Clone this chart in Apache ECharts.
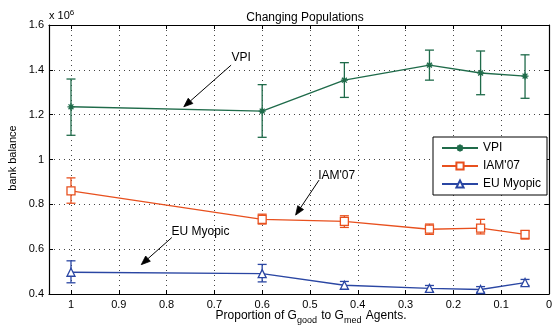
<!DOCTYPE html>
<html>
<head>
<meta charset="utf-8">
<script src="https://cdn.jsdelivr.net/npm/echarts@6/dist/echarts.min.js"></script>
<style>
  html, body { margin: 0; padding: 0; background: #fff; }
  #chart { width: 555px; height: 329px; }
</style>
</head>
<body>
<div id="chart"></div>
<script>
// x 轴（比例）
var xs = [1, 0.6, 0.428, 0.25, 0.143, 0.05];

// 各系列均值及误差上下限（单位 10^6）
var vpiMean = [1.235, 1.216, 1.354, 1.421, 1.386, 1.372];
var vpiLow  = [1.108, 1.099, 1.277, 1.354, 1.289, 1.273];
var vpiHigh = [1.359, 1.334, 1.432, 1.488, 1.484, 1.467];

var iamMean = [0.860, 0.733, 0.724, 0.689, 0.694, 0.666];
var iamLow  = [0.805, 0.712, 0.697, 0.666, 0.668, 0.645];
var iamHigh = [0.918, 0.756, 0.749, 0.712, 0.733, 0.682];

var euMean = [0.497, 0.491, 0.439, 0.425, 0.420, 0.451];
var euLow  = [0.450, 0.454, 0.421, 0.409, 0.408, 0.438];
var euHigh = [0.548, 0.532, 0.456, 0.438, 0.433, 0.465];

var seriesNames = ['VPI', "IAM'07", 'EU Myopic'];
var seriesColors = ['#1f6b4a', '#e8501e', '#2a46a3'];

// 标注：文字位置与箭头（数据坐标）
var notes = [
  { text: 'VPI', at: [0.644, 1.453], from: [0.665, 1.421], to: [0.764, 1.235] },
  { text: "IAM'07", at: [0.444, 0.926], from: [0.481, 0.908], to: [0.530, 0.752] },
  { text: 'EU Myopic', at: [0.729, 0.677], from: [0.789, 0.652], to: [0.853, 0.531] }
];

var FONT = '"Liberation Sans", Arial, Helvetica, sans-serif';
var asterisk = 'path://M5,0L5,10M0,5L10,5M1.5,1.5L8.5,8.5M1.5,8.5L8.5,1.5';

function pairs(ys) {
  return xs.map(function (x, i) { return [x, ys[i]]; });
}
function bars(lo, hi) {
  return xs.map(function (x, i) { return [x, lo[i], hi[i]]; });
}

function errorSeries(name, lo, hi, color) {
  return {
    name: name + ' 误差',
    type: 'custom',
    z: 2,
    silent: true,
    clip: true,
    data: bars(lo, hi),
    renderItem: function (params, api) {
      var x = api.value(0);
      var a = api.coord([x, api.value(1)]);
      var b = api.coord([x, api.value(2)]);
      var w = 4.5;
      var st = { stroke: color, lineWidth: 1.3 };
      return {
        type: 'group',
        children: [
          { type: 'line', shape: { x1: a[0], y1: a[1], x2: b[0], y2: b[1] }, style: st },
          { type: 'line', shape: { x1: a[0] - w, y1: a[1], x2: a[0] + w, y2: a[1] }, style: st },
          { type: 'line', shape: { x1: b[0] - w, y1: b[1], x2: b[0] + w, y2: b[1] }, style: st }
        ]
      };
    }
  };
}

function lineSeries(name, ys, color, symbol, size) {
  return {
    name: name,
    type: 'line',
    z: 3,
    data: pairs(ys),
    symbol: symbol,
    symbolSize: size,
    showAllSymbol: true,
    color: color,
    lineStyle: { color: color, width: 1.4 },
    itemStyle: { color: symbol === asterisk ? color : '#fff', borderColor: color, borderWidth: 1.3 },
    emphasis: { disabled: true }
  };
}

var gridLine = { show: true, lineStyle: { color: '#444', type: [1, 4], width: 1 } };
var tickIn = { show: true, inside: true, length: 4, lineStyle: { color: '#000' } };
var axLine = { show: true, onZero: false, lineStyle: { color: '#000', width: 1.2 } };

var chart = echarts.init(document.getElementById('chart'));
var option = {
  animation: false,
  backgroundColor: '#fff',
  title: {
    text: 'Changing Populations',
    left: 300, top: 7, textAlign: 'center',
    textStyle: { fontFamily: FONT, fontSize: 12, fontWeight: 'normal', color: '#000' }
  },
  grid: { left: 49, right: 4, top: 25, bottom: 35 },
  legend: {
    orient: 'vertical',
    left: 433, top: 137,
    width: 112,
    padding: [5, 6, 5, 8],
    itemGap: 6,
    itemWidth: 36, itemHeight: 9,
    borderColor: '#000', borderWidth: 1,
    backgroundColor: '#fff',
    textStyle: { fontFamily: FONT, fontSize: 12, color: '#000' },
    data: seriesNames
  },
  xAxis: [{
    type: 'value', inverse: true, min: 0, max: 1.046, interval: 0.1,
    axisLine: axLine, axisTick: tickIn, splitLine: gridLine,
    axisLabel: {
      showMaxLabel: false, margin: 5, color: '#000', fontFamily: FONT, fontSize: 11,
      formatter: function (v) { return String(+v.toFixed(1)); }
    }
  }, {
    type: 'value', inverse: true, min: 0, max: 1.046, interval: 0.1, position: 'top',
    axisLine: axLine, axisTick: tickIn, splitLine: { show: false }, axisLabel: { show: false }
  }],
  yAxis: [{
    type: 'value', min: 0.4, max: 1.6, interval: 0.2,
    axisLine: axLine, axisTick: tickIn, splitLine: gridLine,
    axisLabel: {
      margin: 5, color: '#000', fontFamily: FONT, fontSize: 11,
      formatter: function (v) { return String(+v.toFixed(1)); }
    }
  }, {
    type: 'value', min: 0.4, max: 1.6, interval: 0.2, position: 'right',
    axisLine: axLine, axisTick: tickIn, splitLine: { show: false }, axisLabel: { show: false }
  }],
  series: [
    lineSeries('VPI', vpiMean, seriesColors[0], asterisk, 7),
    lineSeries("IAM'07", iamMean, seriesColors[1], 'rect', 8),
    lineSeries('EU Myopic', euMean, seriesColors[2], 'triangle', 8),
    errorSeries('VPI', vpiLow, vpiHigh, seriesColors[0]),
    errorSeries("IAM'07", iamLow, iamHigh, seriesColors[1]),
    errorSeries('EU Myopic', euLow, euHigh, seriesColors[2])
  ]
};
chart.setOption(option);

// 标注、坐标轴标题
function toPx(p) { return chart.convertToPixel({ xAxisIndex: 0, yAxisIndex: 0 }, p); }

var graphics = [];
notes.forEach(function (n) {
  var t = toPx(n.at), a = toPx(n.from), b = toPx(n.to);
  graphics.push({
    type: 'text', x: t[0], y: t[1], z: 10,
    style: { text: n.text, fill: '#000', font: '12px ' + FONT, textAlign: 'center', textVerticalAlign: 'middle' }
  });
  var ang = Math.atan2(b[1] - a[1], b[0] - a[0]);
  var len = 9, hw = 3.5;
  var bx = b[0] - len * Math.cos(ang), by = b[1] - len * Math.sin(ang);
  graphics.push({
    type: 'line', z: 10,
    shape: { x1: a[0], y1: a[1], x2: bx, y2: by },
    style: { stroke: '#000', lineWidth: 1 }
  });
  graphics.push({
    type: 'polygon', z: 10,
    shape: {
      points: [
        [b[0], b[1]],
        [bx + hw * Math.sin(ang), by - hw * Math.cos(ang)],
        [bx - hw * Math.sin(ang), by + hw * Math.cos(ang)]
      ]
    },
    style: { fill: '#000', stroke: '#000', lineWidth: 0.8 }
  });
});

graphics.push({
  type: 'text', left: 49, top: 9, z: 10,
  style: {
    text: 'x 10{sup|6}', font: '11px ' + FONT, fill: '#000',
    rich: { sup: { fontSize: 8, verticalAlign: 'top', padding: [0, 0, 6, 0], fontFamily: FONT } }
  }
});
graphics.push({
  type: 'text', x: 311, y: 316, z: 10,
  style: {
    text: 'Proportion of G{sub|good} to G{sub|med} Agents.',
    font: '12px ' + FONT, fill: '#000', textAlign: 'center', textVerticalAlign: 'middle',
    rich: { sub: { fontSize: 9, fontFamily: FONT, padding: [10, 1, 0, 0] } }
  }
});
graphics.push({
  type: 'text', x: 13, y: 158, rotation: Math.PI / 2, z: 10,
  style: { text: 'bank balance', font: '11px ' + FONT, fill: '#000', textAlign: 'center', textVerticalAlign: 'middle' }
});

chart.setOption({ graphic: graphics });
</script>
</body>
</html>
